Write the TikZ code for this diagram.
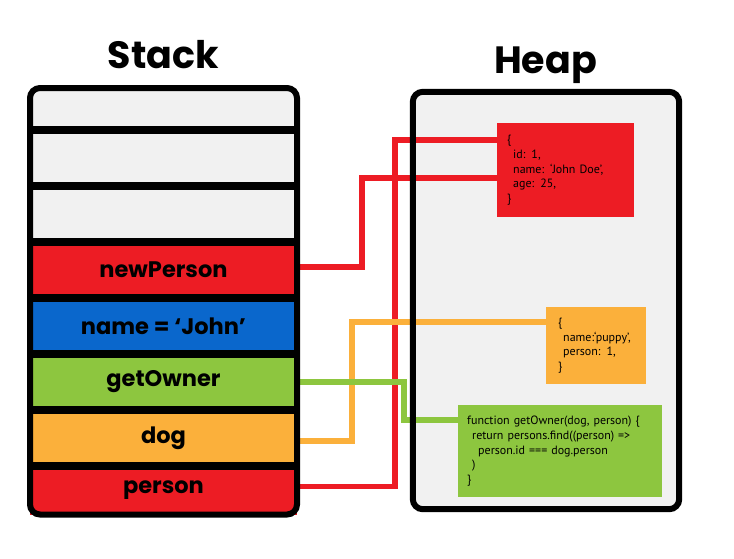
\documentclass[tikz,border=0pt]{standalone}
\usepackage{fontspec}
\setmainfont{PT Sans}
\newfontfamily\headfont{Poppins}
\usepackage{tikz}
\usetikzlibrary{positioning,calc}
\definecolor{memRed}{HTML}{ED1C24}
\definecolor{memBlue}{HTML}{0A67CC}
\definecolor{memGreen}{HTML}{8DC63F}
\definecolor{memOrange}{HTML}{FBB03B}
\definecolor{paper}{HTML}{F1F1F1}

\begin{document}
\begin{tikzpicture}[x=1pt, y=-1pt,
    slot/.style={rectangle, minimum width=267pt, minimum height=56pt, inner sep=0pt, outer sep=0pt,
                 font=\headfont\bfseries\fontsize{22.5}{22.5}\selectfont},
    sep/.style={line width=7.5pt, black},
    frame/.style={line width=6pt, black, rounded corners=10pt},
    obj/.style={rectangle, anchor=north west, inner xsep=10pt, inner ysep=0pt, align=left,
                font=\fontsize{12}{14.6}\selectfont},
    wire/.style={line width=5.5pt},
    title/.style={anchor=base, font=\headfont\bfseries\fontsize{38}{38}\selectfont}]
    \useasboundingbox (0,0) rectangle (734,558);

    % stack slots
    \node [slot, fill=paper, minimum height=42pt] (empty1) at (163.5,109) {};
    \node [slot, fill=paper] (empty2) [below=0pt of empty1] {};
    \node [slot, fill=paper] (empty3) [below=0pt of empty2] {};
    \node [slot, fill=memRed] (newPerson) [below=0pt of empty3] {newPerson};
    \node [slot, fill=memBlue] (nameVar) [below=0pt of newPerson] {name = ‘John’};
    \node [slot, fill=memGreen] (getOwner) [below=0pt of nameVar] {getOwner};
    \node [slot, fill=memOrange] (dog) [below=0pt of getOwner] {dog};
    \node [slot, fill=memRed, minimum height=48.5pt] (person) [below=0pt of dog] {person};
    \foreach \r in {empty1,empty2,empty3,newPerson,nameVar,getOwner,dog}
        \draw [sep] (\r.south west) -- (\r.south east);

    % heap
    \node [rectangle, fill=paper, rounded corners=10pt, minimum width=266pt, minimum height=417pt] (heap) at (546,300.5) {};

    % references
    \coordinate (npTurn) at (362,178);
    \coordinate (psTurn) at (395,140);
    \coordinate (dgTurn) at (352,322);
    \coordinate (goTurn) at (404,420);
    \draw [wire, memRed] ([yshift=3pt]newPerson.east) -| (npTurn) -- (npTurn -| 497,0);
    \draw [wire, memRed] ([yshift=4pt]person.east) -| (psTurn) -- (psTurn -| 497,0);
    \draw [wire, memOrange] ([yshift=-3pt]dog.east) -| (dgTurn) -- (dgTurn -| 546,0);
    \draw [wire, memGreen] (getOwner.east) -| (goTurn) -- (goTurn -| 458,0);

    \draw [frame] (heap.north west) rectangle (heap.south east);
    \draw [frame] (empty1.north west) rectangle (person.south east);

    % objects
    \node [obj, fill=memRed, minimum height=94pt, text width=117pt] (personObj) at (497,123)
        {\{\\ \hspace*{6pt}id: 1,\\ \hspace*{6pt}name:  ‘John Doe’,\\ \hspace*{6pt}age: 25,\\ \}};
    \node [obj, fill=memOrange, minimum height=77pt, text width=76pt, inner xsep=12pt] (dogObj) at (546,307)
        {\{\\ \hspace*{5pt}name:‘puppy’,\\ \hspace*{5pt}person: 1,\\ \}};
    \node [obj, fill=memGreen, minimum height=92pt, text width=186pt, inner xsep=9pt] (fnObj) at (458,405)
        {function getOwner(dog, person) \{\\ \hspace*{5pt}return persons.find((person) =>\\
         \hspace*{11pt}person.id === dog.person\\ \hspace*{5pt})\\ \}};

    \node [title] (stackTitle) at (163.5,68) {Stack};
    \node [title] (heapTitle) at (545.5,73) {Heap};
\end{tikzpicture}
\end{document}
